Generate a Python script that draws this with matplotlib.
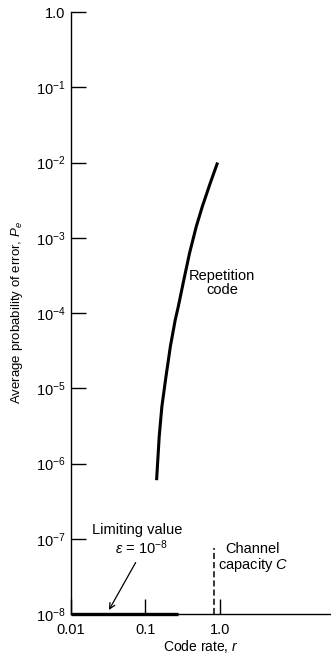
import numpy as np
import matplotlib
matplotlib.use('Agg')
import matplotlib.pyplot as plt

plt.rcParams['font.family'] = ['Liberation Sans', 'DejaVu Sans']
plt.rcParams['mathtext.fontset'] = 'custom'
plt.rcParams['mathtext.rm'] = 'Liberation Sans'
plt.rcParams['mathtext.it'] = 'Liberation Sans:italic'
plt.rcParams['mathtext.bf'] = 'Liberation Sans:bold'

# repetition code curve
rep_rate = [0.141, 0.153, 0.166, 0.188, 0.216, 0.251, 0.275, 0.326,
            0.39, 0.48, 0.58, 0.74, 0.93]
rep_pe = [6.0e-7, 2.3e-6, 5.7e-6, 1.4e-5, 3.6e-5, 8.1e-5, 1.2e-4, 2.7e-4,
          6.2e-4, 1.4e-3, 2.6e-3, 5.3e-3, 1.0e-2]

limit_rate = [0.01, 0.27]
limit_pe = [1e-8, 1e-8]

capacity = 0.83
capacity_top = 7.6e-8

xticks = [0.01, 0.1, 1.0]
xticklabels = ['0.01', '0.1', '1.0']
yticks = [1e-8, 1e-7, 1e-6, 1e-5, 1e-4, 1e-3, 1e-2, 1e-1, 1.0]
yticklabels = ['$10^{-8}$', '$10^{-7}$', '$10^{-6}$', '$10^{-5}$', '$10^{-4}$',
               '$10^{-3}$', '$10^{-2}$', '$10^{-1}$', '1.0']

fig = plt.figure(figsize=(3.31, 6.56), dpi=100)
ax = fig.add_axes([71/331, 1 - 614/656, 1 - 71/331, (614 - 12)/656])

ax.plot(rep_rate, rep_pe, color='black', lw=2.2, solid_capstyle='butt',
        solid_joinstyle='round')
ax.plot(limit_rate, limit_pe, color='black', lw=2.4, clip_on=False, solid_capstyle='butt')
ax.plot([capacity, capacity], [1e-8, capacity_top], color='black', lw=1.1,
        dashes=(4, 2))

ax.set_xscale('log')
ax.set_yscale('log')
ax.set_xlim(0.01, 31)
ax.set_ylim(1e-8, 1.0)

ax.set_xticks(xticks)
ax.set_xticklabels(xticklabels)
ax.set_yticks(yticks)
ax.set_yticklabels(yticklabels)
ax.minorticks_off()
ax.tick_params(direction='in', length=11, width=1.0, labelsize=10.5)
ax.tick_params(axis='x', pad=6.5)
ax.tick_params(axis='y', pad=4)

for s in ['top', 'right']:
    ax.spines[s].set_visible(False)
for s in ['left', 'bottom']:
    ax.spines[s].set_linewidth(1.0)

ax.set_xlabel('Code rate, $r$', fontsize=10, labelpad=1)
ax.set_ylabel('Average probability of error, $P_e$', fontsize=9.5, labelpad=8)

ax.text(1.06, 2.5e-4, 'Repetition\ncode', fontsize=10.5, ha='center', va='center',
        linespacing=1.0)
ax.text(0.077, 1.3e-7, 'Limiting value', fontsize=10.5, ha='center', va='center')
ax.text(0.087, 7.6e-8, r'$\epsilon$ = 10$^{-8}$', fontsize=10.5, ha='center', va='center')
ax.text(2.77, 5.5e-8, 'Channel\ncapacity $C$', fontsize=10.5, ha='center', va='center',
        linespacing=1.0)

ax.annotate('', xy=(0.031, 1.05e-8), xytext=(0.077, 5.2e-8),
            arrowprops=dict(arrowstyle='->', color='black', lw=0.9))

fig.savefig('out.png', dpi=100)
